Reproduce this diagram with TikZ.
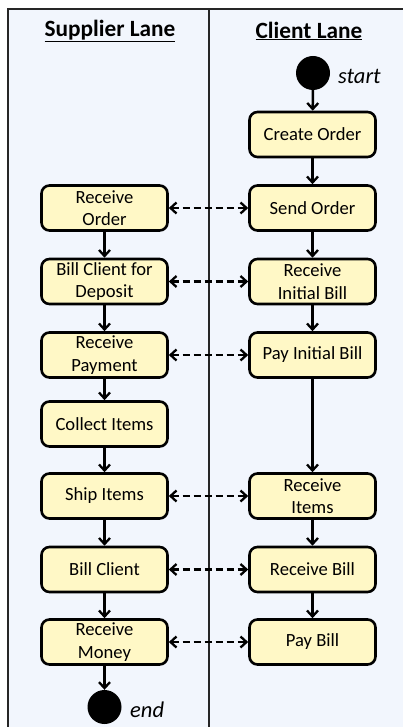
\documentclass[tikz,border=0pt]{standalone}
\usepackage{fontspec}
\setmainfont{Carlito}
\usetikzlibrary{arrows.meta}
\definecolor{lanebg}{HTML}{F2F6FD}
\definecolor{actfill}{HTML}{FFF8C6}
\tikzset{
  activity/.style={draw, line width=2.6pt, rounded corners=8pt, fill=actfill,
    minimum width=126pt, minimum height=45pt, inner sep=1pt, align=center,
    font=\fontsize{18.6}{22.5}\selectfont},
  terminal/.style={circle, fill=black, minimum size=34pt, inner sep=0pt},
  termlabel/.style={font=\fontsize{22.5}{26}\selectfont\itshape, anchor=west, inner sep=0pt},
  header/.style={font=\fontsize{23.3}{27}\selectfont\bfseries},
  flow/.style={line width=2.5pt, -{Straight Barb[length=6pt, width=11pt, line width=2.3pt]}},
  msg/.style={line width=2.5pt, dash pattern=on 7pt off 4pt,
    {Straight Barb[length=6pt, width=11pt, line width=2.3pt]}-{Straight Barb[length=6pt, width=11pt, line width=2.3pt]}},
  lane/.style={line width=1.8pt, draw=black!85}
}
\begin{document}
\begin{tikzpicture}[x=1pt, y=-1pt]
  \useasboundingbox (0,0) rectangle (403,727);
  % swimlane frame
  \fill[lanebg] (8,9) rectangle (412,735);
  \draw[lane] (8,735) -- (8,9) -- (412,9);
  \draw[lane] (209,9) -- (209,735);
  % lane titles
  \node[header] (hsup) at (110,31) {\underline{Supplier Lane}};
  \node[header] (hcli) at (309,31) {\underline{Client Lane}};

  % client lane
  \node[terminal] (start) at (313,73) {};
  \node[termlabel] (startlbl) at (338,76) {start};
  \node[activity] (create) at (312.5,134.5) {Create Order};
  \node[activity] (send) at (312.5,208) {Send Order};
  \node[activity] (rinit) at (312.5,281.5) {Receive\\Initial Bill};
  \node[activity] (pinit) at (312.5,355) {Pay Initial Bill};
  \node[activity] (ritems) at (312.5,496) {Receive\\Items};
  \node[activity] (rbill) at (312.5,569.5) {Receive Bill};
  \node[activity] (pbill) at (312.5,642) {Pay Bill};

  % supplier lane
  \node[activity] (rorder) at (104.5,208) {Receive\\Order};
  \node[activity] (bdep) at (104.5,281.5) {Bill Client for\\Deposit};
  \node[activity] (rpay) at (104.5,355) {Receive\\Payment};
  \node[activity] (collect) at (104.5,424) {Collect Items};
  \node[activity] (ship) at (104.5,496) {Ship Items};
  \node[activity] (bill) at (104.5,569.5) {Bill Client};
  \node[activity] (rmoney) at (104.5,642) {Receive\\Money};
  \node[terminal] (end) at (104.5,707) {};
  \node[termlabel] (endlbl) at (130,710) {end};

  % control flow, client
  \draw[flow] (start) -- (create);
  \draw[flow] (create) -- (send);
  \draw[flow] (send) -- (rinit);
  \draw[flow] (rinit) -- (pinit);
  \draw[flow] (pinit) -- (ritems);
  \draw[flow] (ritems) -- (rbill);
  \draw[flow] (rbill) -- (pbill);

  % control flow, supplier
  \draw[flow] (rorder) -- (bdep);
  \draw[flow] (bdep) -- (rpay);
  \draw[flow] (rpay) -- (collect);
  \draw[flow] (collect) -- (ship);
  \draw[flow] (ship) -- (bill);
  \draw[flow] (bill) -- (rmoney);
  \draw[flow] (rmoney) -- (end);

  % messages between lanes
  \draw[msg] (rorder) -- (send);
  \draw[msg] (bdep) -- (rinit);
  \draw[msg] (rpay) -- (pinit);
  \draw[msg] (ship) -- (ritems);
  \draw[msg] (bill) -- (rbill);
  \draw[msg] (rmoney) -- (pbill);
\end{tikzpicture}
\end{document}
